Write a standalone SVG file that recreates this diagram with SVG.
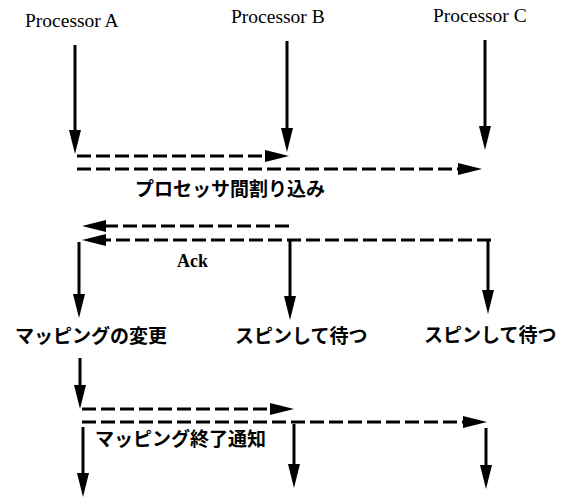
<svg xmlns="http://www.w3.org/2000/svg" width="567" height="497" viewBox="0 0 567 497">
  <style>
    .bg { fill: #ffffff; }
    .flow { stroke: #000; stroke-width: 3; fill: none; marker-end: url(#head); }
    .msg { stroke: #000; stroke-width: 3; fill: none; stroke-dasharray: 14 5; marker-end: url(#head); }
    .proc { font-family: "Liberation Serif", "Times New Roman", serif; font-size: 19.5px; fill: #000; }
    .ack { font-family: "Liberation Serif", "Times New Roman", serif; font-size: 18px; font-weight: bold; fill: #000; }
    .jp { font-family: "Noto Sans CJK JP", "Noto Sans", sans-serif; font-size: 19px; font-weight: bold; fill: #000; }
  </style>
  <defs>
    <marker id="head" markerUnits="userSpaceOnUse" markerWidth="26" markerHeight="13" refX="11" refY="6" orient="auto">
      <path d="M0,0 L24,6 L0,12 z" fill="#000"/>
    </marker>
  </defs>

  <rect class="bg" x="0" y="0" width="567" height="497"/>

  <!-- processor headings -->
  <g id="processor-a"><text class="proc" x="25" y="27">Processor A</text></g>
  <g id="processor-b"><text class="proc" x="231" y="23">Processor B</text></g>
  <g id="processor-c"><text class="proc" x="433" y="22">Processor C</text></g>

  <!-- state labels -->
  <g id="state-remap"><text class="jp" x="15" y="343">マッピングの変更</text></g>
  <g id="state-spin-b"><text class="jp" x="235" y="343">スピンして待つ</text></g>
  <g id="state-spin-c"><text class="jp" x="424" y="342">スピンして待つ</text></g>

  <!-- message labels -->
  <g id="label-ipi"><text class="jp" x="135" y="196">プロセッサ間割り込み</text></g>
  <g id="label-ack"><text class="ack" x="177" y="267">Ack</text></g>
  <g id="label-done"><text class="jp" x="95" y="446">マッピング終了通知</text></g>

  <g id="connectors">
    <!-- timelines, first phase -->
    <line class="flow" x1="75" y1="45" x2="75" y2="141"/>
    <line class="flow" x1="287" y1="41" x2="287" y2="139"/>
    <line class="flow" x1="485" y1="40" x2="485" y2="137"/>

    <!-- inter-processor interrupts -->
    <line class="msg" x1="77" y1="156" x2="276" y2="156"/>
    <line class="msg" x1="77" y1="169" x2="469" y2="169"/>

    <!-- acknowledgements -->
    <line class="msg" x1="289" y1="226" x2="95" y2="226"/>
    <line class="msg" x1="491" y1="240" x2="95" y2="240"/>

    <!-- timelines, second phase -->
    <line class="flow" x1="79" y1="242" x2="79" y2="305"/>
    <line class="flow" x1="290" y1="240" x2="290" y2="307"/>
    <line class="flow" x1="488" y1="240" x2="488" y2="301"/>

    <!-- remap done, then notify -->
    <line class="flow" x1="80" y1="358" x2="80" y2="396"/>
    <line class="msg" x1="82" y1="409" x2="281" y2="409"/>
    <line class="msg" x1="82" y1="422" x2="474" y2="422"/>

    <!-- timelines, final phase -->
    <line class="flow" x1="83" y1="427" x2="83" y2="484"/>
    <line class="flow" x1="294" y1="424" x2="294" y2="475"/>
    <line class="flow" x1="486" y1="428" x2="486" y2="476"/>
  </g>
</svg>
